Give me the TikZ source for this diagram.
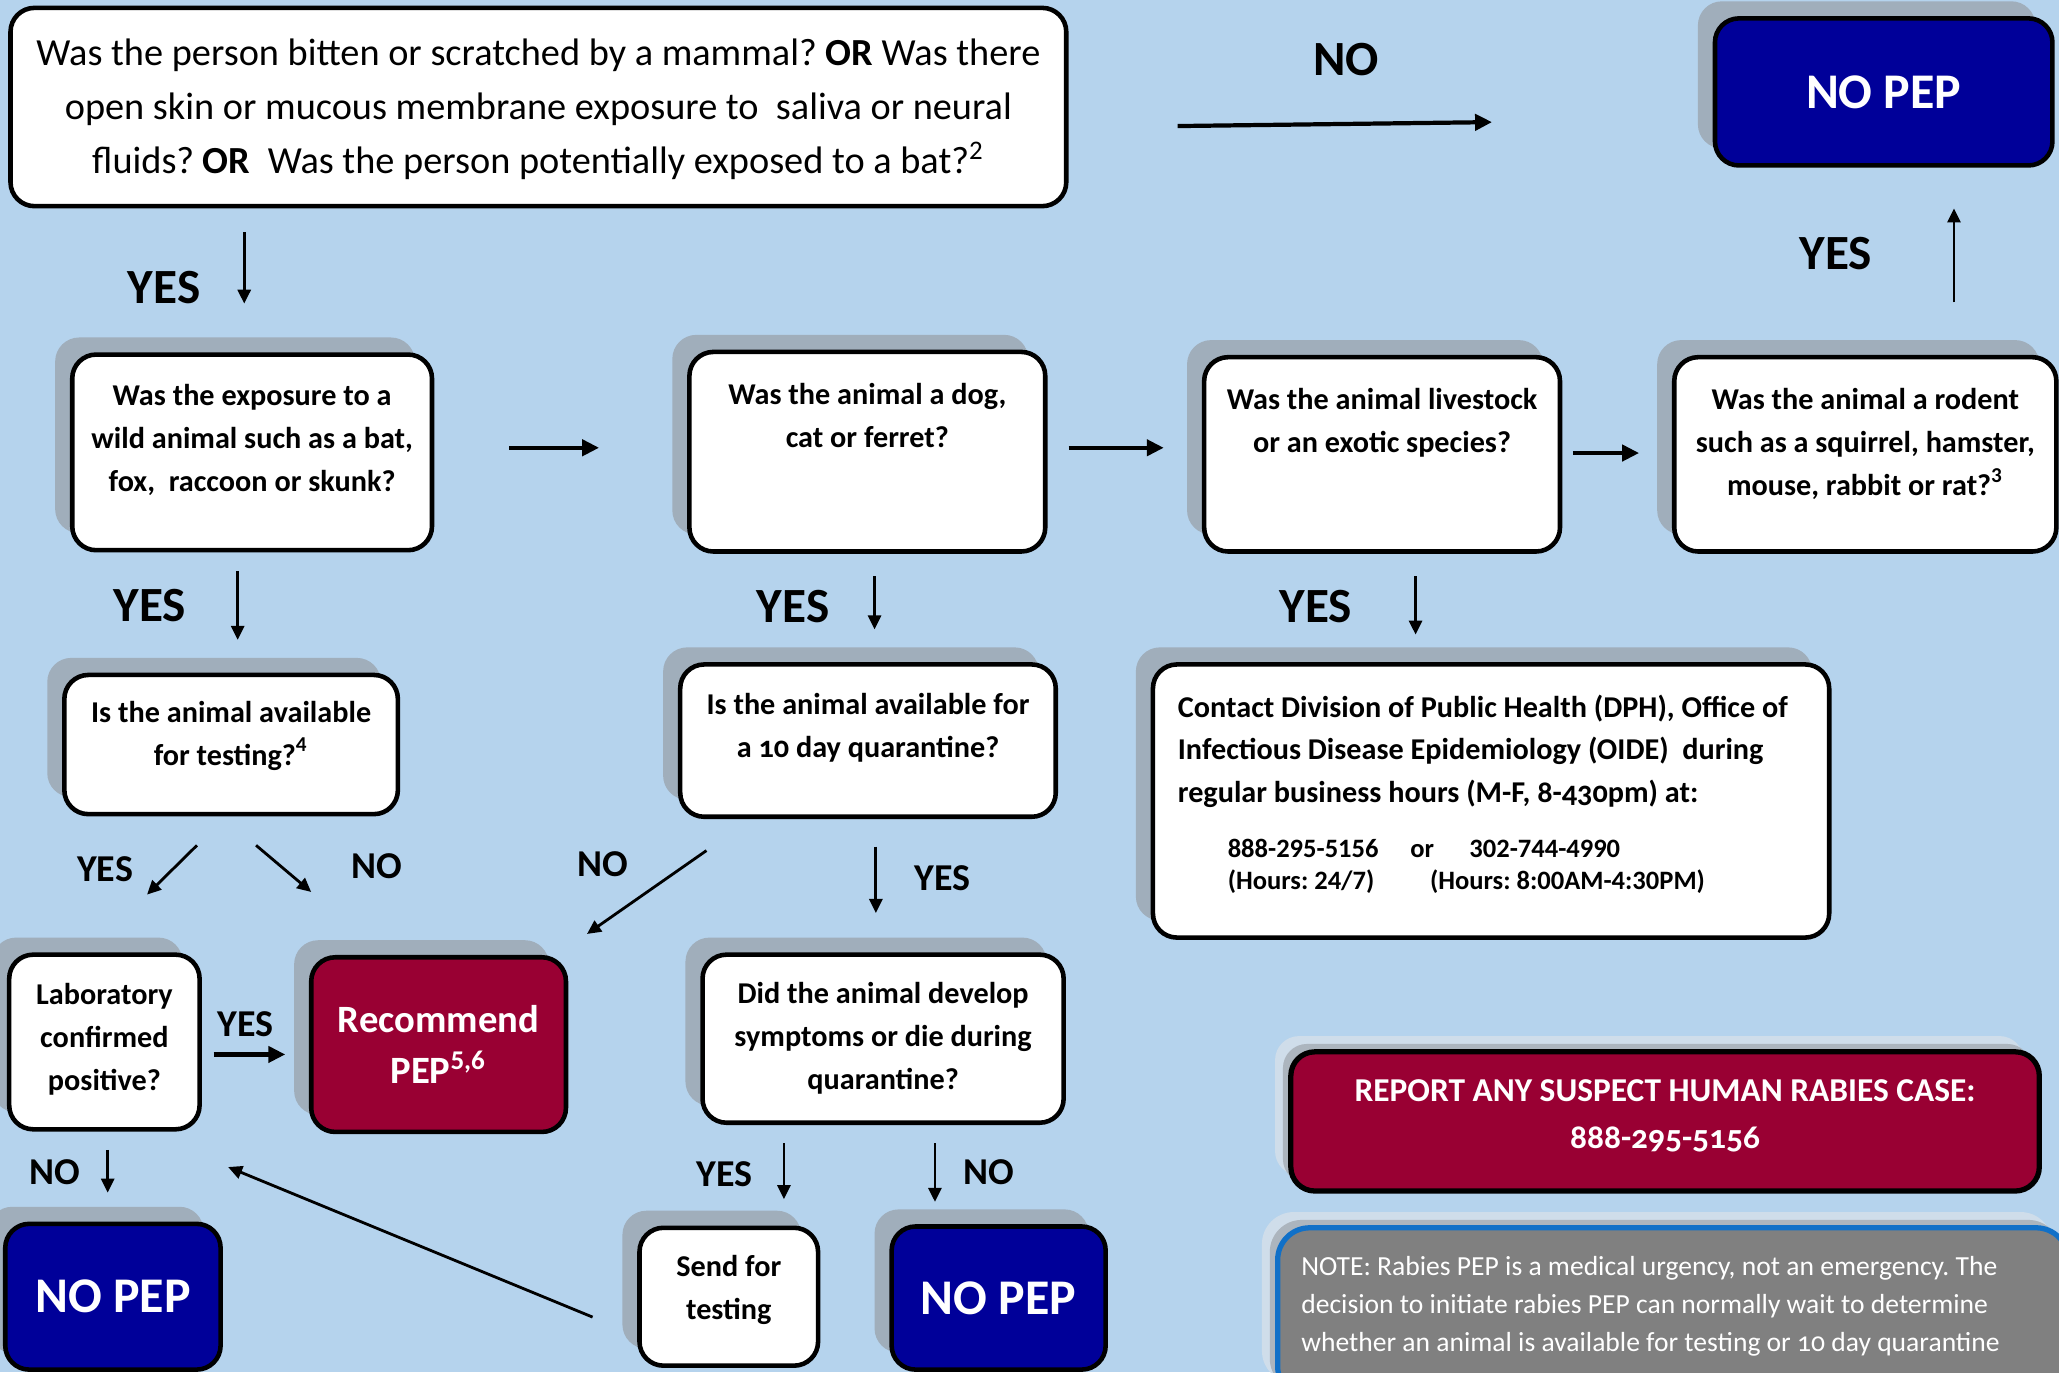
\documentclass[tikz,border=0pt]{standalone}
\usepackage{fontspec}
\setmainfont{Carlito}
\usetikzlibrary{arrows.meta,calc,shadows}
\frenchspacing

\definecolor{bgblue}{RGB}{181,211,237}
\definecolor{shadowgray}{RGB}{160,174,187}
\definecolor{palegray}{RGB}{207,221,234}
\definecolor{midgray}{RGB}{172,181,190}
\definecolor{pepblue}{RGB}{0,0,153}
\definecolor{pepred}{RGB}{153,0,51}
\definecolor{notegray}{RGB}{128,128,128}
\definecolor{noteblue}{RGB}{16,112,200}

\newlength\pxunit
\setlength\pxunit{0.13131mm}
\newcommand\toptext[4]{\parbox[c][#2\pxunit][t]{#1\pxunit}{\centering\vspace*{#3\pxunit}#4}}
\newcommand\osf[1]{{\addfontfeatures{Numbers=OldStyle}#1}}

\tikzset{
	boxsize/.style 2 args={minimum width=#1*\pxunit, minimum height=#2*\pxunit},
	plainbox/.style={draw=black, line width=1.3pt, rounded corners=2.4mm, inner sep=0pt},
	shadowed/.style={drop shadow={shadow xshift=-13*\pxunit, shadow yshift=13*\pxunit, fill=shadowgray, opacity=1}},
	layered/.style={drop shadow={shadow xshift=-12*\pxunit, shadow yshift=12*\pxunit, fill=palegray, opacity=1},
		drop shadow={shadow xshift=-6*\pxunit, shadow yshift=6*\pxunit, fill=midgray, opacity=1}},
	startbox/.style={plainbox, fill=white, font=\fontsize{10.9}{15.3}\selectfont},
	qbox/.style={plainbox, shadowed, fill=white, font=\bfseries\fontsize{8.6}{12.2}\selectfont},
	pepbox/.style={plainbox, shadowed, fill=pepblue, text=white, font=\bfseries\fontsize{14.2}{17}\selectfont},
	redbox/.style={plainbox, shadowed, fill=pepred, text=white, align=center, font=\bfseries\fontsize{11}{14.5}\selectfont},
	biglbl/.style={inner sep=0pt, font=\bfseries\fontsize{14}{17}\selectfont},
	smalllbl/.style={inner sep=0pt, font=\bfseries\fontsize{10.8}{13}\selectfont},
	arr/.style={-{Triangle[length=1.4mm,width=1.3mm]}, line width=0.8pt},
	thickarr/.style={-{Triangle[length=1.7mm,width=1.6mm]}, line width=1.2pt},
}

\begin{document}
\begin{tikzpicture}[x=\pxunit, y=-\pxunit]
	\fill[bgblue] (0,0) rectangle (1568,1045);
	\clip (0,0) rectangle (1568,1045);

	\node[startbox, boxsize={804}{151}] (start) at (410,81.5) {\toptext{804}{151}{24}{Was the person bitten or scratched by a mammal? \textbf{OR} Was there\\open skin or mucous membrane exposure to~ saliva or neural\\fluids? \textbf{OR}~ Was the person potentially exposed to a bat?\textsuperscript{2}}};
	\node[pepbox, boxsize={257}{112}] (nopepA) at (1434.5,70) {NO PEP};

	\node[qbox, boxsize={274}{149}] (wild) at (192,344.5) {\toptext{274}{149}{23}{Was the exposure to a\\wild animal such as a bat,\\fox,~ raccoon or skunk?}};
	\node[qbox, boxsize={271}{152}] (dog) at (660.5,344) {\toptext{271}{152}{24}{Was the animal a dog,\\cat or ferret?}};
	\node[qbox, boxsize={271}{148}] (livestock) at (1052.5,346) {\toptext{271}{148}{24}{Was the animal livestock\\or an exotic species?}};
	\node[qbox, boxsize={291}{148}] (rodent) at (1420.5,346) {\toptext{291}{148}{24}{Was the animal a rodent\\such as a squirrel, hamster,\\mouse, rabbit or rat?\textsuperscript{3}}};

	\node[qbox, boxsize={254}{106}] (testing) at (176,567) {\toptext{254}{106}{20}{Is the animal available\\for testing?\textsuperscript{4}}};
	\node[qbox, boxsize={286}{116}] (quarantine) at (661,564) {\toptext{286}{116}{22}{Is the animal available for\\a \osf{10} day quarantine?}};
	\node[qbox, boxsize={515}{208}] (contact) at (1135.5,610) {\parbox[c][208\pxunit][t]{515\pxunit}{\leftskip=19\pxunit\vspace*{23\pxunit}Contact Division of Public Health (DPH), Office of\\Infectious Disease Epidemiology (OIDE)~ during\\regular business hours (M-F, \osf{8-430}pm) at:\par\vspace{18\pxunit}\fontsize{7.55}{8.9}\selectfont\hspace*{38\pxunit}\makebox[139\pxunit][l]{888-295-5156}\makebox[45\pxunit][l]{or}302-744-4990\\\hspace*{38\pxunit}\makebox[154\pxunit][l]{(Hours: 24/7)}(Hours: 8:00AM-4:30PM)}};

	\node[qbox, boxsize={145}{133}] (lab) at (79.5,793.5) {\toptext{145}{133}{22}{Laboratory\\confirmed\\positive?}};
	\node[redbox, boxsize={194}{133}] (recommend) at (334,795.5) {Recommend\\PEP\textsuperscript{5,6}};
	\node[qbox, boxsize={275}{128}] (develop) at (672.5,791) {\toptext{275}{128}{21}{Did the animal develop\\symptoms or die during\\quarantine?}};

	\node[pepbox, boxsize={164}{111}] (nopepB) at (86,987.5) {NO PEP};
	\node[qbox, boxsize={136}{105}] (send) at (555,987.5) {\toptext{136}{105}{21}{Send for\\testing}};
	\node[pepbox, boxsize={163}{109}] (nopepC) at (760.5,988.5) {NO PEP};

	\node[plainbox, layered, line width=1.5pt, fill=pepred, text=white, font=\bfseries\fontsize{9.5}{13.4}\selectfont, boxsize={570}{106}] (report) at (1268,854) {\toptext{570}{106}{21}{REPORT ANY SUSPECT HUMAN RABIES CASE:\\\osf{888-295-5156}}};
	\node[plainbox, layered, line width=1.5pt, rounded corners=3.2mm, draw=noteblue, fill=notegray, text=white, font=\fontsize{7.85}{10.8}\selectfont, boxsize={602}{130}] (note) at (1274,1000) {\parbox[c][130\pxunit][t]{602\pxunit}{\leftskip=18\pxunit\vspace*{22\pxunit}NOTE: Rabies PEP is a medical urgency, not an emergency. The\\decision to initiate rabies PEP can normally wait to determine\\whether an animal is available for testing or \osf{10} day quarantine}};

	\draw[thickarr] ($(start.east)+(83,14.5)$) -- ($(nopepA.west)+(-168,23)$);
	\draw[arr] ($(rodent.north)+(67.5,-40)$) -- ($(nopepA.south)+(53.5,31)$);
	\draw[arr] ($(start.south)+(-224,18)$) -- ($(wild.north)+(-6,-37)$);
	\draw[thickarr] ($(wild.east)+(57,-3.5)$) -- ($(dog.west)+(-67,-3)$);
	\draw[thickarr] ($(dog.east)+(16,-3)$) -- ($(livestock.west)+(-29,-5)$);
	\draw[thickarr] ($(livestock.east)+(8,-1)$) -- ($(rodent.west)+(-25,-1)$);
	\draw[arr] ($(wild.south)+(-11,14)$) -- ($(testing.north)+(5,-25)$);
	\draw[arr] ($(dog.south)+(5.5,17)$) -- ($(quarantine.north)+(5,-25)$);
	\draw[arr] ($(livestock.south)+(25.5,17)$) -- ($(contact.north)+(-57.5,-21)$);
	\draw[arr] ($(testing.south)+(-26,22)$) -- ($(lab.north)+(32.5,-44)$);
	\draw[arr] ($(testing.south)+(19,22)$) -- ($(recommend.north)+(-97,-48)$);
	\draw[arr] ($(quarantine.south)+(-123,24)$) -- ($(recommend.north)+(113,-16)$);
	\draw[arr] ($(quarantine.south)+(6,21)$) -- ($(develop.north)+(-5.5,-30)$);
	\draw[thickarr] ($(lab.east)+(9,9.5)$) -- ($(recommend.west)+(-18,7.5)$);
	\draw[arr] ($(lab.south)+(2.5,14)$) -- ($(nopepB.north)+(-4,-22)$);
	\draw[arr] ($(develop.south)+(-75.5,14)$) -- ($(send.north)+(42,-20)$);
	\draw[arr] ($(develop.south)+(39.5,14)$) -- ($(nopepC.north)+(-48.5,-17)$);
	\draw[arr] ($(send.west)+(-34,15.5)$) -- ($(lab.south east)+(20,27)$);

	\node[biglbl] (noTop) at (1025,45) {NO};
	\node[biglbl] (yesRodent) at (1398,193) {YES};
	\node[biglbl] (yesStart) at (125,219) {YES};
	\node[biglbl] (yesWild) at (114,461) {YES};
	\node[biglbl] (yesDog) at (604,462) {YES};
	\node[biglbl] (yesStock) at (1002,462) {YES};
	\node[smalllbl] (yesTest) at (80,662) {YES};
	\node[smalllbl] (noTest) at (287,660) {NO};
	\node[smalllbl] (noQuar) at (459,658) {NO};
	\node[smalllbl] (yesQuar) at (718,669) {YES};
	\node[smalllbl] (yesLab) at (187,780) {YES};
	\node[smalllbl] (noLab) at (42,893) {NO};
	\node[smalllbl] (yesDev) at (552,894) {YES};
	\node[smalllbl] (noDev) at (753,893) {NO};
\end{tikzpicture}
\end{document}
